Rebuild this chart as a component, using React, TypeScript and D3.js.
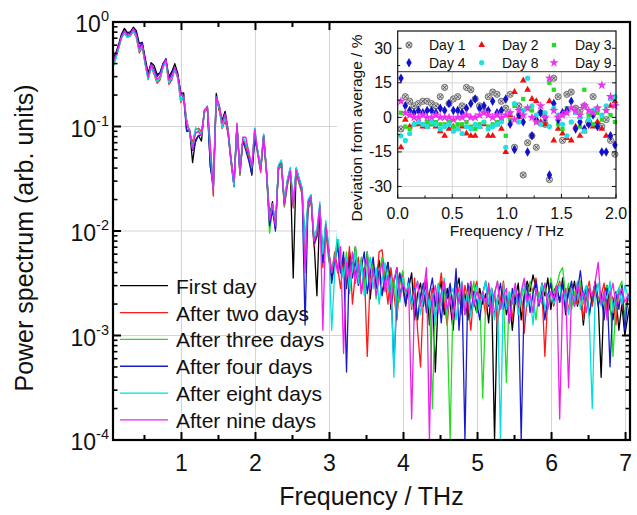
import React from "react";
import * as d3 from "d3";

const FONT = "'Liberation Sans', Arial, Helvetica, sans-serif";

// Frequency grid (THz): f_i = FREQ_START + FREQ_STEP * i
const FREQ_START = 0.03;
const FREQ_STEP = 0.04;

// Average power spectrum below 2 THz (log10 of arb. units)
const avgLowLog10 = [
  -0.50, -0.40, -0.33, -0.24, -0.14, -0.09, -0.13, -0.12, -0.07, -0.12,
  -0.26, -0.22, -0.38, -0.53, -0.41, -0.47, -0.55, -0.52, -0.42, -0.37,
  -0.56, -0.52, -0.44, -0.52, -0.70, -0.72, -0.98, -1.05, -1.22, -1.08,
  -1.05, -1.08, -0.86, -0.81, -1.25, -1.62, -0.72, -0.80, -0.98, -0.90,
  -1.05, -1.32, -1.55, -0.98, -1.45, -1.12, -1.16, -1.26, -1.42, -1.05,
];

// Deviation from average (%) for 0-2 THz (inset)
const devDay1 = [-5, 9, 7, 5, 6, 7, 7, 6, 5, 9, 13, 6, 8, 9, 5, 13, 12, 8, 5, 3, 9, 11, 10, 7, 4, 10, -13, 5, -25, -11, -8, -13, 2, -3, -27, 17, 9, -10, 10, 11, 4, 3, 5, -2, 9, -3, -4, -1, -10, -16];
const devDay2 = [-13, -1, -4, -3, -3, -4, -4, -3, -4, -6, -8, -5, -4, -5, -4, -7, -8, -8, -4, -3, -8, -8, -3, -5, -15, 1, 11, 0, 16, 12, 8, 7, -2, -3, 7, -10, -5, -7, -9, -10, -4, -8, -6, -3, -4, -2, -5, -8, 5, 7];
const devDay3 = [2, -4, -5, -3, -2, -3, -2, -3, -2, -3, -3, -2, -4, -3, -3, -2, -4, -5, -3, -2, -4, -3, -2, -1, -8, -1, 5, 1, 8, 4, 3, -2, 2, -1, 15, 12, -3, -5, 4, -2, 2, -4, 12, 1, -3, 2, -1, 3, 1, -2];
const devDay4 = [17, 5, 3, 2, 3, 2, 3, 3, 2, 4, 3, 6, 3, 3, 2, 4, 6, 8, 4, 5, 3, 7, 2, 3, 8, -3, -14, 1, -2, -15, -8, -1, 2, 0, -25, 6, -1, 2, 3, 7, -5, -2, -5, -3, 1, -4, -15, -15, -8, -12];
const devDay8 = [-8, -10, -7, -3, -2, -3, -4, -2, -3, -5, -4, -3, -6, -5, -7, -4, -5, -3, -4, -2, -5, -4, -3, -2, -13, 2, 6, -2, 3, 17, 5, 1, -3, 2, -4, 4, 1, -3, -8, -2, 2, 0, -6, -1, 3, 4, 1, 5, 8, 9];
const devDay9 = [7, 2, 1, 0, 0, 1, 0, 0, 1, 0, 0, 0, -1, 0, 0, 1, 0, 0, 1, 2, 1, 0, 1, 0, 1, 2, -1, 3, 1, 4, 0, -2, 5, 0, 17, 3, 0, 1, 2, 4, 3, 1, 5, 3, 2, 4, 14, 3, 9, 5];

// Power spectrum above 2 THz (log10), f = 2.03 ... 7.07 THz
const highFirstDay = [
  -1.24, -1.40, -1.08, -1.43, -1.86, -1.72, -1.98, -1.38, -1.33, -1.72, -1.52, -1.40, -2.45, -1.40, -1.50, -1.60, -2.15, -1.72, -1.66, -2.08, -2.62, -1.78, -2.25, -1.93, -2.18, -2.45,
  -2.30, -2.10, -2.40, -2.25, -2.55, -2.20, -2.35, -2.15, -2.50, -2.30, -2.42, -2.20, -2.65, -2.35, -2.48, -2.28, -2.60, -2.45, -2.30, -2.75, -2.50, -2.35, -2.62, -2.48, -2.70,
  -2.55, -2.40, -2.85, -2.60, -2.50, -2.72, -2.45, -2.90, -2.55, -3.35, -2.62, -2.48, -2.80, -2.55, -2.70, -2.95, -2.58, -2.45, -2.75, -2.60, -2.85, -2.50, -2.68, -2.78, -2.55,
  -2.70, -2.60, -2.88, -2.55, -4.00, -2.65, -2.75, -2.52, -2.80, -2.60, -2.95, -2.65, -2.50, -2.85, -2.62, -2.48, -2.58, -2.42, -2.55, -2.70, -2.50, -2.62, -2.45, -2.75, -2.58,
  -2.52, -2.68, -2.45, -2.80, -2.55, -2.62, -2.48, -2.72, -2.58, -2.90, -2.62, -2.55, -2.70, -2.48, -2.65, -3.40, -2.60, -2.52, -2.75, -2.85, -2.62, -2.95, -2.70, -3.00, -2.82, -2.65,
];
const highTwoDays = [
  -1.27, -1.44, -1.12, -1.47, -1.92, -1.76, -1.96, -1.42, -1.37, -1.77, -1.57, -1.44, -1.78, -1.44, -1.55, -1.65, -2.25, -1.80, -1.70, -2.15, -2.05, -1.80, -2.35, -2.00, -2.28, -2.40,
  -2.20, -2.35, -2.55, -2.25, -2.45, -2.15, -2.70, -2.40, -2.25, -2.60, -2.35, -3.20, -2.45, -2.30, -2.55, -2.20, -2.18, -2.45, -2.70, -2.35, -2.60, -2.85, -2.50, -2.40, -2.65,
  -2.50, -2.75, -2.45, -2.95, -3.30, -2.60, -2.48, -2.70, -2.55, -2.85, -2.62, -2.40, -2.68, -2.90, -2.55, -2.72, -2.45, -2.60, -2.80, -2.52, -2.66, -2.95, -2.58, -2.48, -2.70,
  -2.62, -2.80, -2.50, -2.72, -2.58, -2.90, -2.65, -2.48, -2.75, -2.62, -2.85, -2.55, -2.70, -2.60, -2.98, -2.65, -2.50, -2.58, -2.45, -2.68, -2.55, -3.20, -2.62, -2.50, -2.72,
  -2.58, -2.48, -2.65, -2.55, -2.78, -2.50, -2.62, -2.70, -2.52, -2.85, -2.60, -2.48, -2.72, -2.55, -2.68, -2.62, -2.50, -2.78, -2.58, -2.65, -2.90, -2.55, -2.70, -2.82, -2.60, -2.72,
];
const highThreeDays = [
  -1.26, -1.43, -1.10, -1.46, -2.02, -1.78, -1.94, -1.41, -1.36, -1.76, -1.56, -1.43, -1.76, -1.43, -1.54, -1.63, -2.18, -1.76, -1.69, -2.12, -2.02, -1.76, -2.28, -1.96, -2.22, -2.35,
  -2.25, -2.05, -2.30, -2.45, -2.20, -2.60, -2.35, -2.15, -2.40, -2.25, -2.55, -2.20, -2.42, -2.30, -2.65, -2.40, -2.25, -2.50, -2.35, -2.60, -2.45, -2.80, -2.50, -2.38, -2.62,
  -2.48, -2.70, -2.55, -2.85, -2.60, -2.50, -2.75, -2.60, -3.70, -2.65, -2.50, -2.72, -2.55, -2.85, -4.00, -2.62, -2.45, -2.70, -2.58, -2.80, -2.52, -2.65, -2.48, -2.78, -2.60,
  -3.60, -2.70, -2.55, -2.82, -2.60, -2.48, -2.75, -2.62, -3.45, -2.58, -2.70, -2.52, -2.80, -2.65, -2.55, -2.72, -2.48, -2.62, -2.85, -2.58, -2.70, -2.50, -2.66, -2.45, -2.60,
  -2.52, -2.40, -2.35, -2.62, -2.50, -2.75, -2.58, -2.65, -2.48, -2.70, -2.55, -2.82, -2.62, -2.50, -2.68, -2.58, -2.72, -2.52, -2.60, -3.20, -2.70, -2.55, -2.48, -2.85, -2.65, -2.58,
];
const highFourDays = [
  -1.23, -1.41, -1.09, -1.44, -1.95, -1.80, -2.00, -1.39, -1.34, -1.74, -1.54, -1.41, -1.74, -1.41, -1.52, -1.62, -2.90, -1.74, -1.67, -2.12, -2.05, -1.77, -2.30, -1.95, -2.20, -2.50,
  -2.30, -2.15, -2.40, -2.20, -3.35, -2.25, -2.45, -2.28, -2.52, -2.35, -2.20, -2.60, -2.40, -2.25, -2.55, -2.38, -2.62, -2.45, -2.30, -2.50, -3.30, -2.65, -2.40, -2.55, -2.72,
  -2.45, -2.70, -2.55, -2.85, -2.62, -2.50, -2.78, -2.60, -2.45, -2.72, -2.58, -2.88, -2.52, -2.65, -2.50, -2.75, -2.36, -2.95, -2.55, -4.00, -2.50, -2.78, -2.58, -2.68, -2.85,
  -2.60, -2.48, -2.72, -2.55, -2.82, -2.65, -2.50, -2.75, -2.62, -2.88, -2.55, -2.70, -2.60, -4.00, -2.65, -2.52, -2.78, -2.60, -2.48, -2.72, -2.58, -2.85, -2.62, -2.50, -2.70,
  -2.55, -2.68, -2.50, -2.75, -2.60, -2.48, -2.72, -2.58, -2.38, -2.65, -2.55, -2.80, -2.62, -2.50, -2.72, -2.60, -2.85, -2.55, -3.30, -2.68, -2.58, -2.75, -2.52, -2.95, -2.65, -2.60,
];
const highEightDays = [
  -1.22, -1.40, -1.07, -1.42, -1.88, -1.74, -1.93, -1.37, -1.32, -1.71, -1.51, -1.39, -1.72, -1.39, -1.49, -1.58, -2.12, -1.70, -1.65, -2.05, -1.98, -1.72, -2.22, -1.90, -2.15, -2.95,
  -2.40, -2.00, -2.30, -2.45, -2.25, -2.55, -2.35, -2.20, -2.50, -2.30, -2.62, -2.40, -2.25, -2.55, -2.35, -2.70, -2.48, -2.30, -2.58, -2.45, -3.40, -2.40, -2.68, -2.45, -2.60,
  -2.50, -2.72, -2.58, -2.48, -2.80, -2.62, -2.55, -2.75, -2.60, -2.90, -2.52, -2.68, -2.45, -2.78, -2.62, -2.55, -2.85, -2.60, -2.48, -2.72, -2.58, -2.82, -2.65, -2.52, -2.75,
  -2.60, -2.48, -2.70, -2.55, -2.85, -2.62, -4.00, -2.50, -2.75, -2.58, -2.68, -2.52, -2.80, -2.62, -2.48, -2.72, -2.60, -2.90, -2.55, -2.68, -2.50, -2.75, -2.62, -2.58, -2.70,
  -2.62, -2.50, -2.72, -2.58, -2.80, -2.55, -2.68, -2.48, -2.75, -2.60, -2.52, -2.85, -3.70, -2.62, -2.50, -2.72, -2.58, -2.65, -2.48, -2.78, -2.60, -2.55, -2.70, -2.52, -2.62, -2.68,
];
const highNineDays = [
  -1.25, -1.42, -1.09, -1.44, -1.90, -1.75, -1.95, -1.40, -1.35, -1.74, -1.54, -1.42, -1.76, -1.42, -1.53, -1.61, -2.40, -1.73, -1.67, -2.10, -2.02, -1.75, -2.95, -1.94, -2.20, -2.40,
  -2.25, -2.40, -2.15, -3.17, -2.30, -2.45, -2.20, -2.50, -2.32, -2.60, -2.40, -2.25, -2.55, -2.38, -2.62, -2.45, -2.30, -2.58, -2.42, -2.70, -2.48, -2.35, -2.65, -2.50, -2.58,
  -2.55, -3.80, -2.60, -2.48, -2.72, -2.58, -2.35, -4.00, -2.65, -2.52, -2.78, -2.60, -2.48, -2.75, -2.62, -2.85, -2.55, -2.68, -2.50, -2.80, -2.62, -2.48, -2.72, -2.58, -2.66,
  -2.58, -2.70, -2.52, -2.82, -2.60, -2.48, -2.75, -2.62, -2.55, -2.88, -2.65, -2.50, -2.72, -2.58, -2.45, -2.68, -2.60, -2.78, -2.55, -2.70, -2.62, -2.50, -2.75, -2.58, -2.65,
  -2.52, -3.80, -2.62, -2.55, -3.50, -2.60, -2.72, -2.50, -2.65, -2.58, -2.78, -2.55, -2.62, -2.48, -2.30, -2.70, -2.58, -2.85, -2.62, -2.50, -2.72, -2.60, -2.55, -2.68, -2.62, -2.58,
];

const seriesNames = ["First day", "After two days", "After three days", "After four days", "After eight days", "After nine days"];
const lineColors = ["#000000", "#ff1a1a", "#22dd22", "#1a1acc", "#00e0e0", "#ee20ee"];
const insetNames = ["Day 1", "Day 2", "Day 3", "Day 4", "Day 8", "Day 9"];
const markerColors = ["#9a9a9a", "#ee1111", "#22dd22", "#1111cc", "#22e0e0", "#ee33ee"];
const devSeries = [devDay1, devDay2, devDay3, devDay4, devDay8, devDay9];
const highSeries = [highFirstDay, highTwoDays, highThreeDays, highFourDays, highEightDays, highNineDays];

const xTicksMain = [1, 2, 3, 4, 5, 6, 7];
const xMinorMain = [0.5, 1.5, 2.5, 3.5, 4.5, 5.5, 6.5];
const yTickExps = [0, -1, -2, -3, -4];
const insetYTicks = [30, 15, 0, -15, -30];
const insetYMinor = [22.5, 7.5, -7.5, -22.5];
const insetXTicks = [0, 0.5, 1, 1.5, 2];
const insetXMinor = [0.25, 0.75, 1.25, 1.75];

// layout
const PL = 113, PR = 630, PT = 22, PB = 440;
const IL = 397.7, IR = 616, IT = 31, IB = 198, ILEG = 71.7;

function Marker({ k, cx, cy }: { k: number; cx: number; cy: number }) {
  const c = markerColors[k];
  const t = `translate(${cx},${cy})`;
  if (k === 0) {
    return (
      <g transform={t}>
        <circle r={3.1} fill="#cfcfcf" stroke="#555" strokeWidth={0.8} />
        <path d="M-1.8,-1.8L1.8,1.8M-1.8,1.8L1.8,-1.8" stroke="#444" strokeWidth={0.8} />
      </g>
    );
  }
  if (k === 1) return <path transform={t} d={d3.symbol(d3.symbolTriangle, 20)() || ""} fill={c} />;
  if (k === 2) return <path transform={t} d={d3.symbol(d3.symbolSquare, 18)() || ""} fill={c} />;
  if (k === 3) return <path transform={t} d={d3.symbol(d3.symbolDiamond, 26)() || ""} fill={c} />;
  if (k === 4) return <circle cx={cx} cy={cy} r={2.6} fill={c} />;
  return <path transform={t} d={d3.symbol(d3.symbolStar, 28)() || ""} fill={c} />;
}

export default function App() {
  const x = d3.scaleLinear().domain([0.075, 7.06]).range([PL, PR]);
  const y = d3.scaleLog().domain([1e-4, 1]).range([PB, PT]);
  const line = d3
    .line<[number, number]>()
    .x((d) => x(d[0]))
    .y((d) => y(Math.max(1e-4, d[1])));

  const nLow = avgLowLog10.length;
  const mainSeries = seriesNames.map((_, j) => {
    const pts: [number, number][] = [];
    avgLowLog10.forEach((a, i) => {
      const f = FREQ_START + FREQ_STEP * i;
      pts.push([f, Math.pow(10, a) * (1 + devSeries[j][i] / 100)]);
    });
    highSeries[j].forEach((v, k) => {
      const f = FREQ_START + FREQ_STEP * (nLow + k);
      pts.push([f, Math.pow(10, v)]);
    });
    return pts;
  });

  const ix = d3.scaleLinear().domain([0, 2]).range([IL, IR]);
  const iy = d3.scaleLinear().domain([-35, 37.5]).range([IB, IT]);

  const yMinor: number[] = [];
  for (let e = -4; e < 0; e++) for (let m = 2; m <= 9; m++) yMinor.push(m * Math.pow(10, e));

  const legendY0 = 285.7;
  const legendDY = 26.85;

  const insetLegendRows = [45, 62.7];
  const insetLegendMarkerX = [409, 481.7, 554];
  const insetLegendTextX = [429, 502, 575];

  return (
    <svg width={637} height={515} style={{ display: "block", position: "absolute", left: 0, top: 0 }} fontFamily={FONT}>
      <rect x={0} y={0} width={637} height={515} fill="#fff" />
      <defs>
        <clipPath id="plotClip">
          <rect x={PL} y={PT - 1} width={PR - PL} height={PB - PT + 2} />
        </clipPath>
      </defs>

      {/* gridlines */}
      {xTicksMain.map((t) => (
        <line key={"gx" + t} x1={x(t)} x2={x(t)} y1={PT} y2={PB} stroke="#d4d4d4" strokeWidth={1} />
      ))}
      {[-1, -2, -3].map((e) => (
        <line key={"gy" + e} x1={PL} x2={PR} y1={y(Math.pow(10, e))} y2={y(Math.pow(10, e))} stroke="#d4d4d4" strokeWidth={1} />
      ))}

      {/* spectra */}
      <g clipPath="url(#plotClip)">
        {mainSeries.map((pts, j) => (
          <path key={"s" + j} d={line(pts) || ""} fill="none" stroke={lineColors[j]} strokeWidth={1.3} strokeLinejoin="round" />
        ))}
      </g>

      {/* legend */}
      {seriesNames.map((n, j) => (
        <g key={"lg" + j}>
          <line x1={120} x2={168} y1={legendY0 + j * legendDY} y2={legendY0 + j * legendDY} stroke={lineColors[j]} strokeWidth={1.3} />
          <text x={176} y={legendY0 + j * legendDY + 8} fontSize={21} fill="#111">
            {n}
          </text>
        </g>
      ))}

      {/* main axes ticks */}
      {xTicksMain.map((t) => (
        <g key={"xt" + t}>
          <line x1={x(t)} x2={x(t)} y1={PB} y2={PB - 8} stroke="#000" strokeWidth={2} />
          <line x1={x(t)} x2={x(t)} y1={PT} y2={PT + 8} stroke="#000" strokeWidth={2} />
          <text x={x(t)} y={471} fontSize={23} textAnchor="middle" fill="#111">
            {t}
          </text>
        </g>
      ))}
      {xMinorMain.map((t) => (
        <g key={"xm" + t}>
          <line x1={x(t)} x2={x(t)} y1={PB} y2={PB - 5} stroke="#000" strokeWidth={2} />
          <line x1={x(t)} x2={x(t)} y1={PT} y2={PT + 5} stroke="#000" strokeWidth={2} />
        </g>
      ))}
      {yTickExps.map((e) => {
        const yy = y(Math.pow(10, e));
        return (
          <g key={"yt" + e}>
            <line x1={PL} x2={PL + 8} y1={yy} y2={yy} stroke="#000" strokeWidth={2} />
            <line x1={PR} x2={PR - 8} y1={yy} y2={yy} stroke="#000" strokeWidth={2} />
            <text x={109} y={yy + 10} fontSize={23} textAnchor="end" fill="#111">
              10
              <tspan dy={-11} fontSize={14.5}>
                {e === 0 ? "0" : "-" + Math.abs(e)}
              </tspan>
            </text>
          </g>
        );
      })}
      {yMinor.map((v, i) => (
        <g key={"ym" + i}>
          <line x1={PL} x2={PL + 4.5} y1={y(v)} y2={y(v)} stroke="#000" strokeWidth={1.6} />
          <line x1={PR} x2={PR - 4.5} y1={y(v)} y2={y(v)} stroke="#000" strokeWidth={1.6} />
        </g>
      ))}

      {/* axis titles */}
      <text x={(PL + PR) / 2} y={505} fontSize={25} textAnchor="middle" fill="#111">
        Frequency / THz
      </text>
      <text transform={`translate(33,238) rotate(-90)`} fontSize={25} textAnchor="middle" fill="#111">
        Power spectrum (arb. units)
      </text>

      {/* inset */}
      <rect x={337} y={PT + 1} width={PR - 337 - 1} height={216} fill="#fff" />
      {insetYTicks.filter((t) => t < 30).map((t) => (
        <line key={"igy" + t} x1={IL} x2={IR} y1={iy(t)} y2={iy(t)} stroke="#d8d8d8" strokeWidth={1} />
      ))}
      {[0.5, 1, 1.5].map((t) => (
        <line key={"igx" + t} x1={ix(t)} x2={ix(t)} y1={ILEG} y2={IB} stroke="#d8d8d8" strokeWidth={1} />
      ))}
      {devSeries.map((arr, k) => (
        <g key={"ip" + k}>
          {arr.map((v, i) => (
            <Marker key={i} k={k} cx={ix(FREQ_START + FREQ_STEP * i)} cy={iy(v)} />
          ))}
        </g>
      ))}
      {/* inset legend */}
      <rect x={IL} y={IT} width={IR - IL} height={ILEG - IT} fill="#fff" />
      <line x1={IL} x2={IR} y1={ILEG} y2={ILEG} stroke="#333" strokeWidth={1} />
      {insetNames.map((n, k) => {
        const row = Math.floor(k / 3);
        const col = k % 3;
        return (
          <g key={"il" + k}>
            <Marker k={k} cx={insetLegendMarkerX[col]} cy={insetLegendRows[row]} />
            <text x={insetLegendTextX[col]} y={insetLegendRows[row] + 5} fontSize={14} fill="#111">
              {n}
            </text>
          </g>
        );
      })}
      <rect x={IL} y={IT} width={IR - IL} height={IB - IT} fill="none" stroke="#111" strokeWidth={1.2} />
      {insetYTicks.map((t) => (
        <g key={"iyt" + t}>
          <line x1={IL} x2={IL + 4} y1={iy(t)} y2={iy(t)} stroke="#111" strokeWidth={1} />
          <line x1={IR} x2={IR - 4} y1={iy(t)} y2={iy(t)} stroke="#111" strokeWidth={1} />
          <text x={392} y={iy(t) + 5.5} fontSize={16} textAnchor="end" fill="#111">
            {t}
          </text>
        </g>
      ))}
      {insetYMinor.map((t) => (
        <g key={"iym" + t}>
          <line x1={IL} x2={IL + 2.5} y1={iy(t)} y2={iy(t)} stroke="#111" strokeWidth={1} />
          <line x1={IR} x2={IR - 2.5} y1={iy(t)} y2={iy(t)} stroke="#111" strokeWidth={1} />
        </g>
      ))}
      {insetXTicks.map((t) => (
        <g key={"ixt" + t}>
          <line x1={ix(t)} x2={ix(t)} y1={IB} y2={IB - 4} stroke="#111" strokeWidth={1} />
          <text x={ix(t)} y={218.5} fontSize={16} textAnchor="middle" fill="#111">
            {t.toFixed(1)}
          </text>
        </g>
      ))}
      {insetXMinor.map((t) => (
        <line key={"ixm" + t} x1={ix(t)} x2={ix(t)} y1={IB} y2={IB - 2.5} stroke="#111" strokeWidth={1} />
      ))}
      <text x={(IL + IR) / 2} y={235.5} fontSize={15.5} textAnchor="middle" fill="#111">
        Frequency / THz
      </text>
      <text transform={`translate(362,128) rotate(-90)`} fontSize={15.5} textAnchor="middle" fill="#111">
        Deviation from average / %
      </text>

      {/* main frame */}
      <rect x={PL} y={PT} width={PR - PL} height={PB - PT} fill="none" stroke="#000" strokeWidth={2.2} />
    </svg>
  );
}
